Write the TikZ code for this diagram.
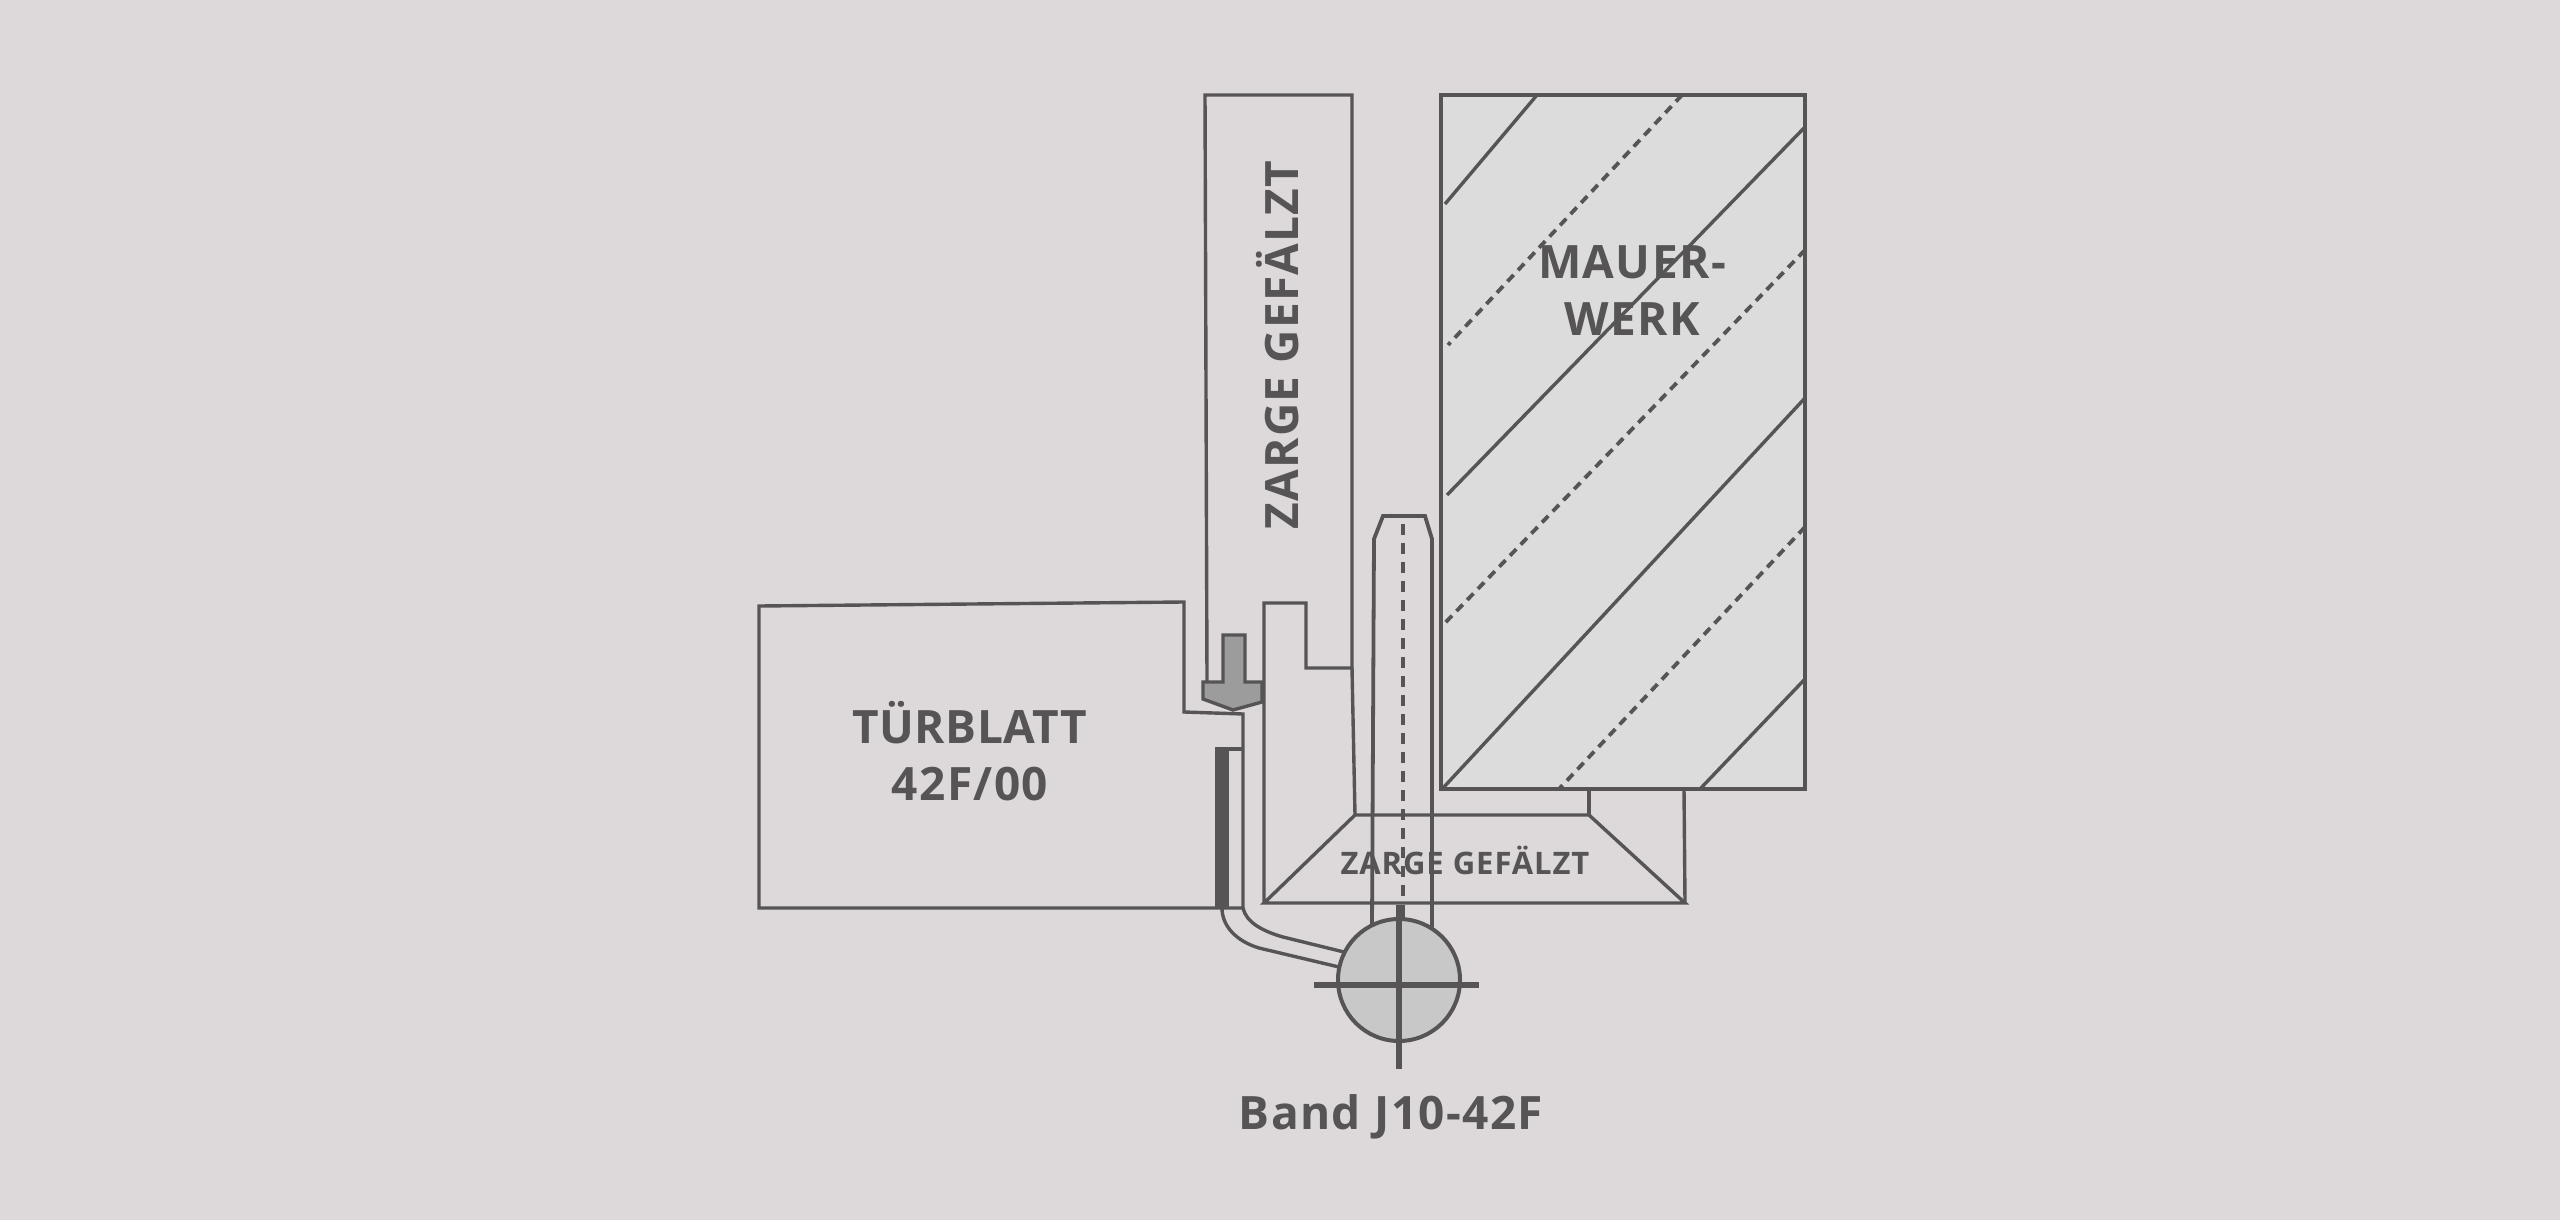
\documentclass[tikz,border=0pt]{standalone}
\usepackage{fontspec}
\setmainfont{Open Sans}[LetterSpace=3]
\newfontfamily\tightfont{Open Sans}[LetterSpace=1.2]
\definecolor{backgr}{HTML}{DDD9DA}
\definecolor{ink}{HTML}{565455}
\definecolor{wallfill}{HTML}{DCDCDC}
\definecolor{pinfill}{HTML}{C8C8C8}
\definecolor{clampfill}{HTML}{9C9C9C}
\tikzset{
  outline/.style={draw=ink,line width=1.7pt,line join=miter},
  hatchline/.style={draw=ink,line width=1.7pt},
  hatchdash/.style={draw=ink,line width=1.9pt,dash pattern=on 4.5pt off 3.2pt},
  label/.style={text=ink,font=\bfseries\fontsize{23}{28.5}\selectfont,align=center,inner sep=0pt},
}
\begin{document}
\begin{tikzpicture}[x=0.5pt,y=-0.5pt]
\fill[backgr] (0,0) rectangle (2560,1220);
\useasboundingbox (0,0) rectangle (2560,1220);
% wall
\draw[outline,fill=wallfill] (1441,95) rectangle (1805,789);
\foreach \xa/\ya/\xb/\yb in {1537/95/1445/204,1805/127/1447/495,1805/398/1443/788,1805/679/1700/789} {
\draw[hatchline] (\xa,\ya) -- (\xb,\yb);
}
\foreach \xa/\ya/\xb/\yb in {1682/95/1448/345,1805/250/1443/625,1805/527/1559/789} {
\draw[hatchdash] (\xa,\ya) -- (\xb,\yb);
}
% frame
\draw[outline] (1207,682) -- (1205,95) -- (1352,95) -- (1352,668) -- (1306,668) -- (1306,603) -- (1264,603) -- (1264,903);
\draw[outline] (1352,668) -- (1355,815);
\draw[outline] (1264,903) -- (1355,815) -- (1589,815) -- (1685,903) -- cycle;
\draw[outline] (1589,789) -- (1589,815);
\draw[outline] (1684,789) -- (1685,903);
% door leaf
\draw[outline] (1243,908) -- (759,908) -- (759,606) -- (1184,602) -- (1184,712) -- (1243,714) -- (1243,908);
\fill[ink] (1215,749) rectangle (1229,908);
\draw[outline] (1215,749) -- (1243,749);
% clamp
\draw[outline,fill=clampfill] (1223,635) -- (1245,635) -- (1245,682) -- (1262,682) -- (1262,702) -- (1233,710) -- (1203,699) -- (1203,682) -- (1223,682) -- cycle;
% post
\draw[outline,line width=1.9pt] (1372,925) -- (1374,539) -- (1383,516) -- (1425,516) -- (1432,539) -- (1432,927);
\draw[draw=ink,line width=2.3pt,dash pattern=on 5.5pt off 4pt] (1403,524) -- (1403,898);
% hinge arm
\draw[outline] (1243,908) .. controls (1246,922) and (1262,931) .. (1283,937) -- (1344,952);
\draw[outline] (1222,908) .. controls (1222,926) and (1236,941) .. (1259,948) -- (1339,967);
% hinge pin
\draw[draw=ink,line width=2pt,fill=pinfill] (1399,980) circle (61);
\draw[draw=ink,line width=3.5pt] (1401,905) -- (1401,920);
\draw[draw=ink,line width=2.8pt] (1399,905) -- (1399,1069);
\draw[draw=ink,line width=2.8pt] (1314,985) -- (1479,985);
% labels
\node[label] (doorleaf) at (970,751) {\tightfont\bfseries TÜRBLATT\\42F/00};
\node[label] (wall) at (1632,291) {MAUER-\\WERK};
\node[label,rotate=90] (frameA) at (1278,345) {ZARGE GEFÄLZT};
\node[label,font=\bfseries\fontsize{15.5}{18}\selectfont] (frameB) at (1465,860) {ZARGE GEFÄLZT};
\node[label] (hinge) at (1391,1117) {Band J10-42F};
\end{tikzpicture}
\end{document}
